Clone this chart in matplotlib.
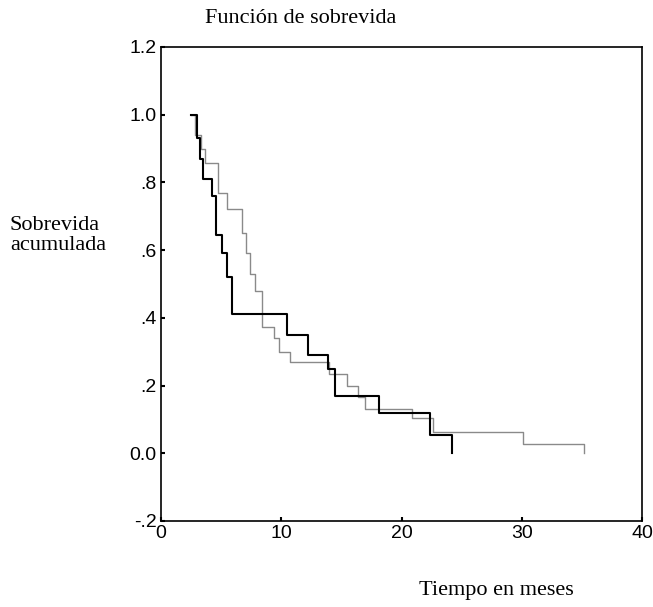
import matplotlib
matplotlib.use("Agg")
import matplotlib.pyplot as plt
from matplotlib import font_manager

# survival curves (step functions, value holds until next time)
dark_t = [2.5, 2.95, 3.25, 3.5, 4.2, 4.6, 5.05, 5.45, 5.9, 10.5, 12.25, 13.9, 14.45, 18.1, 22.4, 24.2]
dark_s = [1.0, 0.93, 0.87, 0.81, 0.76, 0.645, 0.59, 0.52, 0.41, 0.35, 0.29, 0.25, 0.17, 0.118, 0.054, 0.0]

light_t = [2.5, 2.8, 3.3, 3.65, 4.75, 5.5, 6.7, 7.1, 7.4, 7.8, 8.4, 9.4, 9.85, 10.7, 14.0, 15.5, 16.4, 17.0, 20.85, 22.6, 30.1, 35.2]
light_s = [1.0, 0.94, 0.9, 0.856, 0.77, 0.72, 0.65, 0.59, 0.53, 0.48, 0.372, 0.34, 0.30, 0.27, 0.235, 0.2, 0.165, 0.13, 0.104, 0.062, 0.027, 0.0]

xticks = [0, 10, 20, 30, 40]
yticks = [-0.2, 0.0, 0.2, 0.4, 0.6, 0.8, 1.0, 1.2]
ylabels = ['-.2', '0.0', '.2', '.4', '.6', '.8', '1.0', '1.2']

serif = ['Liberation Serif', 'DejaVu Serif']
names = {f.name for f in font_manager.fontManager.ttflist}
sans = ['Liberation Sans Narrow'] if 'Liberation Sans Narrow' in names else ['Liberation Sans']

fig = plt.figure(figsize=(6.53, 6.07), dpi=100)
ax = fig.add_axes([0.2466, 0.1417, 0.7366, 0.781])

ax.step(light_t, light_s, where='post', color='#8a8a8a', lw=1.0)
ax.step(dark_t, dark_s, where='post', color='black', lw=1.5)

ax.set_xlim(0, 40)
ax.set_ylim(-0.2, 1.2)
ax.set_xticks(xticks)
ax.set_xticklabels([str(t) for t in xticks], family=sans, fontsize=14)
ax.set_yticks(yticks)
ax.set_yticklabels(ylabels, family=sans, fontsize=14)
ax.tick_params(direction='in', length=3, width=1.5, pad=3)
for sp in ax.spines.values():
    sp.set_linewidth(1.2)

fig.text(0.46, 0.97, 'Función de sobrevida', family=serif, fontsize=16,
         ha='center', va='center')
fig.text(0.015, 0.612, 'Sobrevida\nacumulada', family=serif, fontsize=16,
         ha='left', va='center', linespacing=1.1)
fig.text(0.76, 0.028, 'Tiempo en meses', family=serif, fontsize=16,
         ha='center', va='center')

fig.savefig('out.png', dpi=100)
